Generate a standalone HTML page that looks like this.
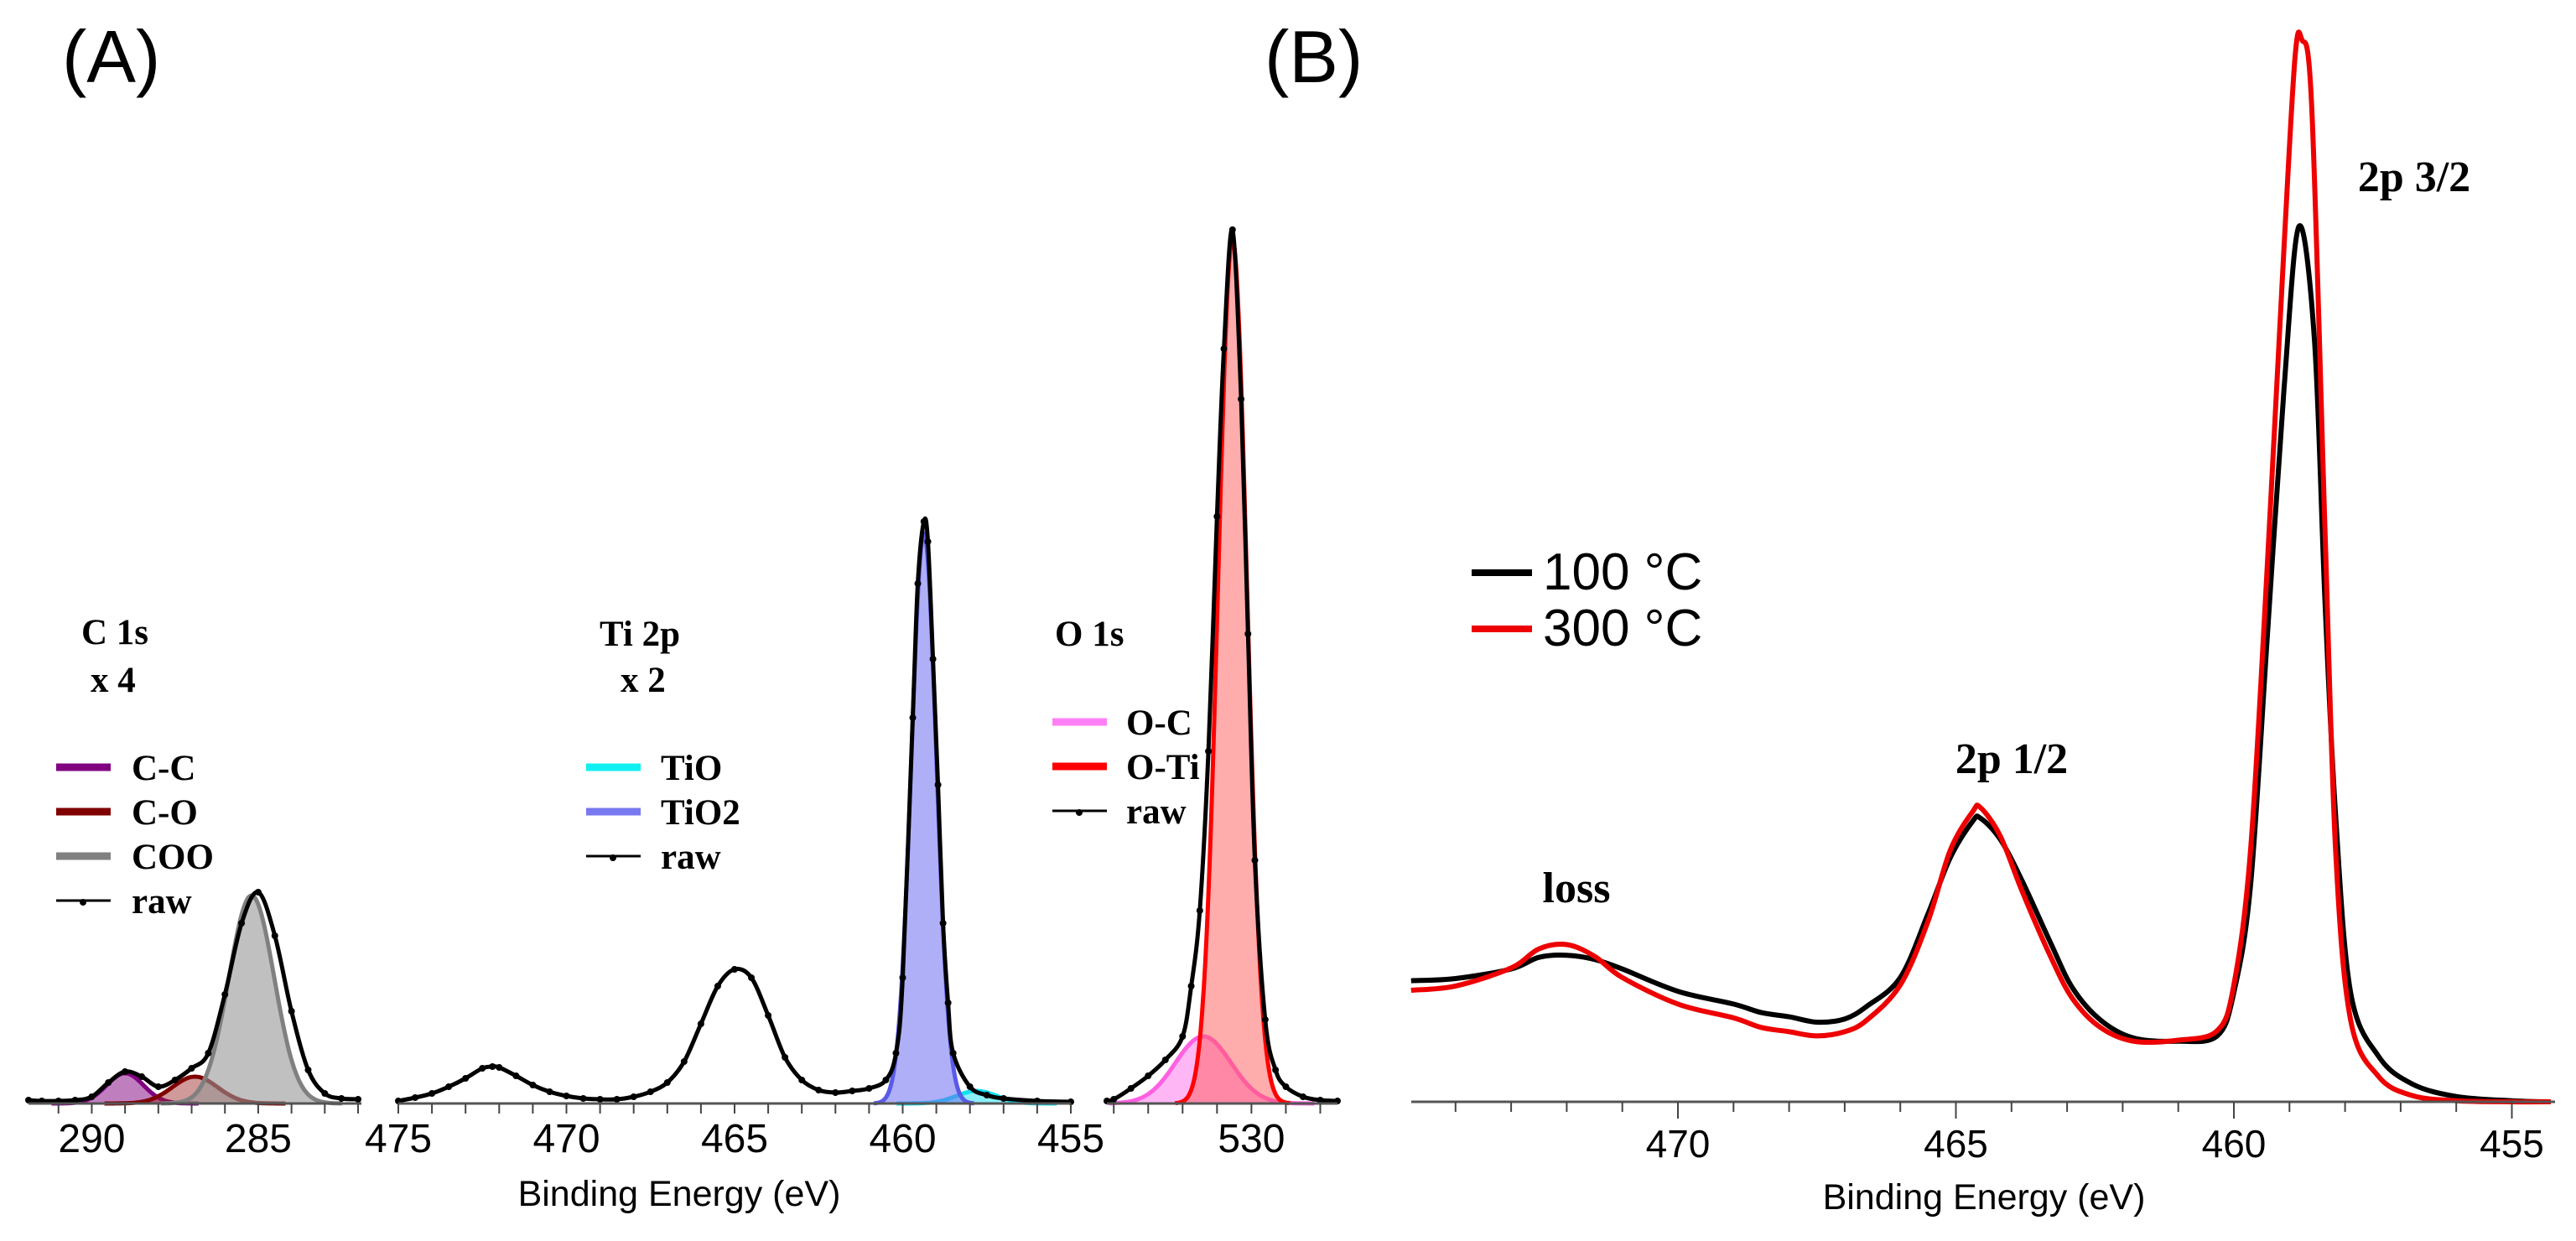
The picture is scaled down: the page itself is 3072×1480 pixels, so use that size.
<!DOCTYPE html>
<html><head><meta charset="utf-8"><title>XPS spectra</title>
<style>
html,body{margin:0;padding:0;background:#fff;}
svg{display:block;}
.sans{font-family:"Liberation Sans",Arial,sans-serif;}
.serif{font-family:"Liberation Serif","Times New Roman",serif;font-weight:bold;}
</style></head>
<body>
<svg id="fig" xmlns="http://www.w3.org/2000/svg" width="3072" height="1480" viewBox="0 0 3072 1480">
<rect width="3072" height="1480" fill="#fff"/>
<text class="sans" x="74" y="98" font-size="88">(A)</text>
<text class="sans" x="1508" y="98" font-size="88">(B)</text>
<g id="gA"></g>
<g id="gB"></g>
</svg>
<script>
// ---------- Panel A data ----------
const cE = [291.9,291.5,291,290.5,290,289.5,289,288.5,288,287.5,287,286.5,286,285.5,285,284.5,284,283.5,283,282.5,282];
const cRaw = [4,3,3,4,8,25,38,32,20,28,42,60,130,215,252,200,110,40,12,6,5];
const cCompNames = ["C-C","C-O","COO"];
const cCompCenter = [289.0,286.9,285.2];
const cCompHeight = [36,32,248];
const cCompFwhm = [1.3,1.6,1.6];

const tE = [475,474.5,474,473.5,473,472.5,472.2,472,471.5,471,470.5,470,469.5,469,468.5,468,467.5,467,466.5,466,465.5,465,464.5,464,463.5,463,462.5,462,461.5,461,460.5,460.2,460,459.7,459.55,459.37,459.25,459.1,458.95,458.8,458.65,458.5,458,457.5,457,456,455];
const tRaw = [3,7,12,20,30,42,44,43,33,22,14,9,6,5,5,8,14,25,50,95,140,160,150,105,55,28,16,13,15,18,28,60,150,460,620,694,670,530,380,215,120,60,20,10,6,3,2];
const tCompNames = ["TiO","TiO2"];
const tCompCenter = [457.8,459.37];
const tCompHeight = [15,680];
const tCompFwhm = [1.4,0.88];

const oE = [534.2,534,533.5,533,532.5,532,531.75,531.5,531.25,531,530.8,530.55,530.3,530.1,529.9,529.6,529.3,529,528.5,528,527.5];
const oRaw = [3,5,18,33,52,80,140,230,420,700,900,1042,840,560,290,100,40,20,8,4,3];
const oCompNames = ["O-C","O-Ti"];
const oCompCenter = [531.4,530.55];
const oCompHeight = [80,1030];
const oCompFwhm = [1.9,0.98];

const cTicks = [290,285];
const tTicks = [475,470,465,460,455];
const oTicks = [530];

// ---------- Panel B data ----------
const bE100 = [474.8,474,473,472.5,472,471.5,471,470,469,468.5,468,467.5,467,466.6,466,465.5,465.1,464.7,464.56,464.2,463.8,463.3,462.9,462.4,461.8,461,460.3,460,459.7,459.4,459.1,458.83,458.55,458.36,458.17,457.9,457.4,456.8,456,455,454.3];
const bI100 = [11.4,11.6,12.5,13.6,13.8,13.4,12.5,10.4,9.2,8.4,8.0,7.5,7.8,9.0,11.7,17.7,23.0,26.4,26.7,24.7,20.7,15.0,10.7,7.7,6.0,5.7,6.2,10.3,20.4,43.7,67,82.4,71.7,47,27,10.3,4.3,1.7,0.5,0.1,0];
const bE300 = [474.8,474,473,472.5,472,471.5,471,470,469,468.5,468,467.5,467,466.6,466,465.5,465.1,464.7,464.56,464.2,463.8,463.3,462.9,462.4,461.8,461,460.3,460,459.7,459.4,459.1,458.9,458.78,458.6,458.36,458.17,457.9,457.4,456.8,456,455,454.3];
const bI300 = [10.5,10.9,12.6,14.4,14.8,13.7,11.7,9.2,7.9,7.0,6.6,6.2,6.6,7.7,11.0,17.0,23.7,27.3,27.7,25.0,19.7,13.7,9.7,7.0,5.7,5.8,6.7,11.0,23.7,50.4,80.3,98.3,100,93.7,53.7,23.7,7.7,2.4,0.6,0.1,0,0];
const bTicks = [470,465,460,455];

const NS = "http://www.w3.org/2000/svg";
function mk(parent, tag, attrs){const e=document.createElementNS(NS,tag);for(const k in attrs)e.setAttribute(k,attrs[k]);parent.appendChild(e);return e;}
function spline(pts){
  let d="M"+pts[0][0].toFixed(1)+","+pts[0][1].toFixed(1);
  for(let i=0;i<pts.length-1;i++){
    const p0=pts[Math.max(0,i-1)],p1=pts[i],p2=pts[i+1],p3=pts[Math.min(pts.length-1,i+2)];
    const c1=[p1[0]+(p2[0]-p0[0])/6,p1[1]+(p2[1]-p0[1])/6];
    const c2=[p2[0]-(p3[0]-p1[0])/6,p2[1]-(p3[1]-p1[1])/6];
    d+="C"+c1[0].toFixed(1)+","+c1[1].toFixed(1)+" "+c2[0].toFixed(1)+","+c2[1].toFixed(1)+" "+p2[0].toFixed(1)+","+p2[1].toFixed(1);
  }
  return d;
}
const gA=document.getElementById('gA');
const gB=document.getElementById('gB');
const AXY=1316;

function subplot(key, e0, e1, x0, x1, scaleY, E, raw, names, cen, hgt, fw, strokes, fills, ticks, minorFrom, minorTo){
  const X=e=>x0+(e0-e)*(x1-x0)/(e0-e1);
  const Y=v=>AXY-v*scaleY;
  const g=mk(gA,'g',{});
  
  
  for(let c=0;c<names.length;c++){
    const s=fw[c]/2.3548;const pts=[];
    const lo=cen[c]-4*s, hi=cen[c]+4*s;
    for(let k=0;k<=80;k++){const e=lo+(hi-lo)*k/80;if(e>e0||e<e1)continue;pts.push([X(e),Y(hgt[c]*Math.exp(-(e-cen[c])*(e-cen[c])/(2*s*s)))]);}
    const fill=mk(g,'path',{d:spline(pts)+"L"+pts[pts.length-1][0].toFixed(1)+","+AXY+"L"+pts[0][0].toFixed(1)+","+AXY+"Z",fill:fills[c],stroke:'none'});
    
    
    const ln=mk(g,'path',{d:spline(pts),fill:'none',stroke:strokes[c],'stroke-width':5});
    
    
  }
  const rp=E.map((e,i)=>[X(e),Y(raw[i])]);
  const r=mk(g,'path',{d:spline(rp),fill:'none',stroke:'#000','stroke-width':5,'stroke-linejoin':'round'});
  
  
  for(let i=0;i<rp.length;i++){
    const dt=mk(g,'circle',{cx:rp[i][0],cy:rp[i][1],r:4,fill:'#000'});
    
    
  }
  const ax=mk(g,'line',{x1:x0,x2:x1,y1:AXY,y2:AXY,stroke:'#555','stroke-width':3});
  
  
  for(let e=minorFrom;e>=minorTo;e--){
    const t=mk(g,'line',{x1:X(e),x2:X(e),y1:AXY,y2:AXY+12,stroke:'#444','stroke-width':2});
    
    
  }
  ticks.forEach(v=>{
    const t=mk(g,'text',{x:X(v),y:1374,'text-anchor':'middle','font-size':48,class:'sans'});
    t.textContent=v;
    
    
  });
}
subplot('c1s',291.9,281.9,34,431,1,cE,cRaw,cCompNames,cCompCenter,cCompHeight,cCompFwhm,
  ['#800080','#800000','#808080'],['rgba(128,0,128,0.5)','rgba(150,30,30,0.45)','rgba(150,150,150,0.6)'],cTicks,291,282);
subplot('ti2p',475,455,475,1277,1,tE,tRaw,tCompNames,tCompCenter,tCompHeight,tCompFwhm,
  ['#10e0f0','#5a5ae8'],['rgba(0,220,240,0.45)','rgba(110,110,240,0.55)'],tTicks,475,455);
subplot('o1s',534.2,527.5,1320,1595,1,oE,oRaw,oCompNames,oCompCenter,oCompHeight,oCompFwhm,
  ['#ff60e0','#ff0000'],['rgba(255,110,235,0.5)','rgba(255,90,90,0.5)'],oTicks,534,528);

function legendA(items, x, yTop, tx){
  items.forEach((it,i)=>{
    const y=yTop+i*53;
    const l=mk(gA,'line',{x1:x,x2:x+65,y1:y,y2:y,stroke:it[1],'stroke-width':it[2]});
    
    
    if(it[0]==='raw'){const d=mk(gA,'circle',{cx:x+32,cy:y+2,r:4,fill:'#000'});}
    const t=mk(gA,'text',{x:tx,y:y+15,'font-size':43,class:'serif'});
    t.textContent=it[0];
    
    
  });
}
legendA([['C-C','#800080',9],['C-O','#800000',9],['COO','#808080',9],['raw','#000',3]],67,915,157);
legendA([['TiO','#10f0f0',9],['TiO2','#7878f0',9],['raw','#000',3]],699,915,788);
legendA([['O-C','#ff80f4',9],['O-Ti','#ff0000',9],['raw','#000',3]],1255,861,1343);
</script>
<script>
(function(){
const gA=document.getElementById('gA');
const NS="http://www.w3.org/2000/svg";
const labels=[["C 1s",97,768,'c1s-title'],["x 4",108,825,'c1s-scale'],["Ti 2p",715,770,'ti2p-title'],["x 2",740,825,'ti2p-scale'],["O 1s",1258,770,'o1s-title']];
labels.forEach(l=>{const t=document.createElementNS(NS,'text');t.setAttribute('x',l[1]);t.setAttribute('y',l[2]);t.setAttribute('font-size','43');t.setAttribute('class','serif');t.textContent=l[0];


gA.appendChild(t);});
const tt=document.createElementNS(NS,'text');tt.setAttribute('x','810');tt.setAttribute('y','1438');tt.setAttribute('text-anchor','middle');tt.setAttribute('font-size','43');tt.setAttribute('class','sans');tt.textContent='Binding Energy (eV)';


gA.appendChild(tt);
})();
</script>
<script>
(function(){
const e0=474.8,e1=454.3,xL=1683,xR=3047;
const X=e=>2001+(470-e)*66.3;
const Y=v=>1314-v*12.67;
const line=(E,I,col,name)=>{
  const p=mk(gB,'path',{d:spline(E.map((e,i)=>[X(e),Y(I[i])])),fill:'none',stroke:col,'stroke-width':6,'stroke-linejoin':'round'});
  
  
};
line(bE100,bI100,'#000','series-100c');
line(bE300,bI300,'#ee0000','series-300c');
const ax=mk(gB,'line',{x1:xL,x2:xR,y1:1314,y2:1314,stroke:'#555','stroke-width':3});


for(let e=474;e>=455;e--){
  const major=bTicks.indexOf(e)>=0;
  const t=mk(gB,'line',{x1:X(e),x2:X(e),y1:1314,y2:1314+(major?20:12),stroke:'#444','stroke-width':2});
  
  
}
bTicks.forEach(v=>{
  const t=mk(gB,'text',{x:X(v),y:1380,'text-anchor':'middle','font-size':46,class:'sans'});
  t.textContent=v;
  
  
});
const tt=mk(gB,'text',{x:2366,y:1442,'text-anchor':'middle','font-size':43,class:'sans'});
tt.textContent='Binding Energy (eV)';


const leg=[['100 °C','#000',683],['300 °C','#ee0000',750]];
leg.forEach(l=>{
  const s=mk(gB,'line',{x1:1755,x2:1827,y1:l[2],y2:l[2],stroke:l[1],'stroke-width':8});
  
  
  const t=mk(gB,'text',{x:1840,y:l[2]+20,'font-size':62,class:'sans'});
  t.textContent=l[0];
  
  
});
const ann=[['loss',1880,1076,'loss-label'],['2p 1/2',2399,922,'peak-2p12-label'],['2p 3/2',2879,228,'peak-2p32-label']];
ann.forEach(a=>{
  const t=mk(gB,'text',{x:a[1],y:a[2],'text-anchor':'middle','font-size':52,class:'serif'});
  t.textContent=a[0];
  
  
});
})();
</script>
</body></html>
